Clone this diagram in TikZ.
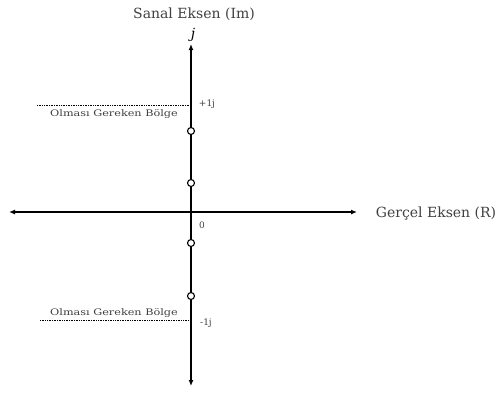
\documentclass[tikz,border=0pt]{standalone}
\usepackage{fontspec}
\setmainfont{DejaVu Serif}
\usetikzlibrary{arrows.meta}
\begin{document}
\begin{tikzpicture}[x=1pt,y=-1pt,
  axis/.style={line width=1.6pt,-{Latex[length=6pt,width=5pt]}},
  pole/.style={circle,draw,line width=1.1pt,inner sep=0pt,minimum size=7pt,fill=white},
  limit/.style={densely dotted,line width=0.7pt},
  lbl/.style={font=\fontsize{14}{15}\selectfont,text=black!75},
  small/.style={font=\fontsize{9}{10}\selectfont,text=black!75}]
\useasboundingbox (0,0) rectangle (497,392);
\coordinate (O) at (191,212);
\coordinate (T) at (191,44);
\coordinate (B) at (191,386);
\coordinate (L) at (9,212);
\coordinate (R) at (357,212);
\draw[axis] (O) -- (T);
\draw[axis] (O) -- (B);
\draw[axis] (O) -- (L);
\draw[axis] (O) -- (R);
\coordinate (pt) at (191,105);
\coordinate (pb) at (191,320);
\coordinate (lt) at (37,105);
\coordinate (lb) at (40,320);
\draw[limit] (lt) -- (pt);
\draw[limit] (lb) -- (pb);
\node[pole] (p1) at (191,131) {};
\node[pole] (p2) at (191,183) {};
\node[pole] (p3) at (191,243) {};
\node[pole] (p4) at (191,296) {};
\node[lbl] (im) at (194,14) {Sanal Eksen (Im)};
\node[font=\itshape\fontsize{14}{15}\selectfont] (j) at (193,35) {j};
\node[lbl] (re) at (436,214) {Gerçel Eksen (R)};
\node[small] (zero) at (202,225) {0};
\node[small] (pj) at (207,104) {+1j};
\node[small] (mj) at (206,323) {-1j};
\node[small] (r1) at (114,114) {\scalebox{1.25}[1]{Olması Gereken Bölge}};
\node[small] (r2) at (114,313) {\scalebox{1.25}[1]{Olması Gereken Bölge}};
\end{tikzpicture}
\end{document}
